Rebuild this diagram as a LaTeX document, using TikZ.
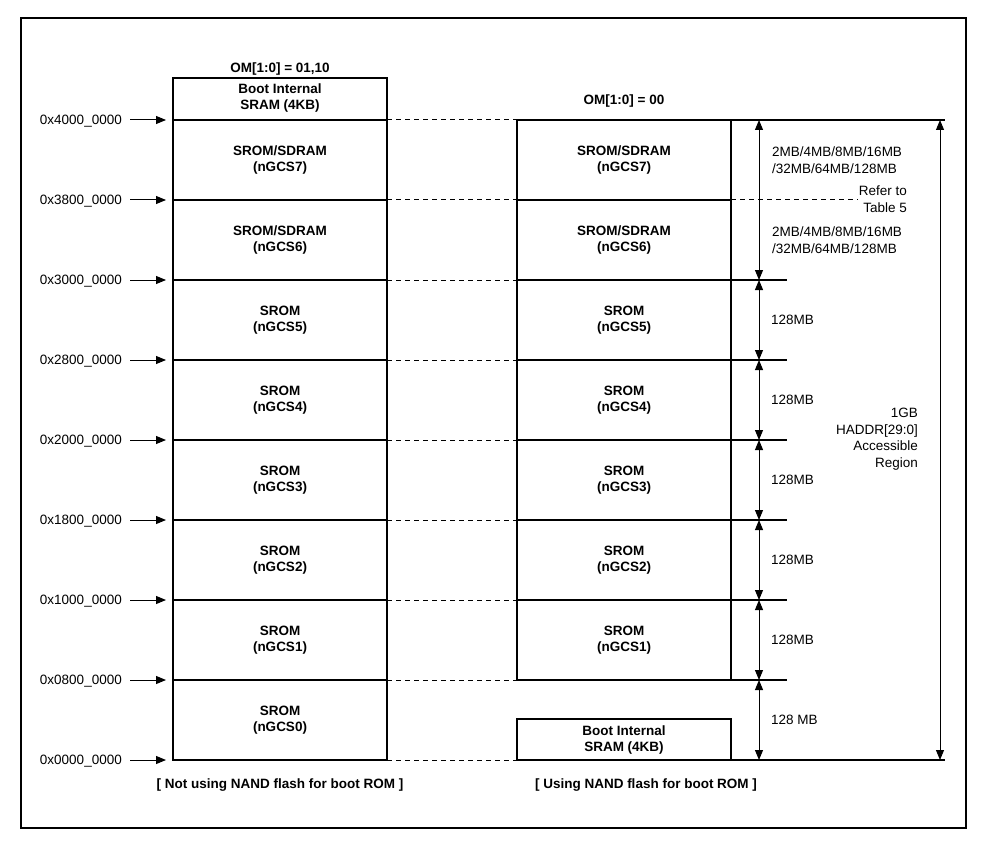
\documentclass[tikz,border=0pt]{standalone}
\usepackage{fontspec}
\setmainfont{Liberation Sans}
\usetikzlibrary{arrows.meta}
\begin{document}
\begin{tikzpicture}[x=1pt,y=-1pt,
    txt/.style={font=\fontsize{13.5}{16.5}\selectfont, inner sep=0pt},
    bold/.style={font=\fontsize{13.5}{16.5}\selectfont\bfseries, inner sep=0pt, align=center},
    box/.style={line width=1.1pt},
    gap/.style={line width=1pt, dash pattern=on 5pt off 4pt},
    tip/.style={line width=1pt, -{Triangle[length=10pt,width=8pt]}},
    dtip/.style={line width=1pt, {Triangle[length=10pt,width=8pt]}-{Triangle[length=10pt,width=8pt]}}]
    \useasboundingbox (0,0) rectangle (981,842);

    % Marco
    \draw[line width=2.5pt] (21,18) rectangle (966,828);

    % Columna izquierda
    \node[bold] (omL) at (280,69) {OM[1:0] = 01,10};
    \draw[box] (173,78) rectangle (387,760);
    \node[bold] (bootL) at (280,98) {Boot Internal\\SRAM (4KB)};
    \foreach \y in {120,200,...,680}
        \draw[box] (173,\y) -- (387,\y);

    % Bancos izquierda
    \foreach \i/\t in {7/{SROM/SDRAM},6/{SROM/SDRAM},5/SROM,4/SROM,3/SROM,2/SROM,1/SROM,0/SROM}
        \node[bold] (L\i) at (280,{160+(7-\i)*80}) {\t\\(nGCS\i)};

    % Direcciones
    \foreach \a [count=\k from 0] in {4000,3800,3000,2800,2000,1800,1000,0800,0000} {
        \node[txt, anchor=east] (a\a) at (122,{121+\k*80}) {0x\a\_0000};
        \draw[tip] (130,{120+\k*80}) -- (166,{120+\k*80});
    }

    % Lineas de enlace
    \foreach \y in {120,200,...,760}
        \draw[gap] (387,\y) -- (517,\y);

    % Columna derecha
    \node[bold] (omR) at (624,101) {OM[1:0] = 00};
    \draw[box] (517,120) rectangle (731,680);
    \foreach \y in {200,280,...,600}
        \draw[box] (517,\y) -- (731,\y);
    \foreach \i/\t in {7/{SROM/SDRAM},6/{SROM/SDRAM},5/SROM,4/SROM,3/SROM,2/SROM,1/SROM}
        \node[bold] (R\i) at (624,{160+(7-\i)*80}) {\t\\(nGCS\i)};
    \draw[box] (517,719) rectangle (731,760);
    \node[bold] (bootR) at (624,740) {Boot Internal\\SRAM (4KB)};

    % Marcas derecha
    \draw[box] (731,120) -- (945,120);
    \draw[gap] (731,200) -- (858,200);
    \foreach \y in {280,360,...,680}
        \draw[box] (731,\y) -- (787,\y);
    \draw[box] (731,760) -- (945,760);

    % Tamanos
    \foreach \ya/\yb in {120/280,280/360,360/440,440/520,520/600,600/680,680/760}
        \draw[dtip] (759,\ya) -- (759,\yb);
    \draw[dtip] (940,120) -- (940,760);

    \node[txt, anchor=west, align=left] (s7) at (772,160) {2MB/4MB/8MB/16MB\\/32MB/64MB/128MB};
    \node[txt, anchor=west, align=left] (s6) at (772,240) {2MB/4MB/8MB/16MB\\/32MB/64MB/128MB};
    \node[txt, anchor=east, align=right] (ref) at (907,199) {Refer to\\Table 5};
    \foreach \i/\y in {5/320,4/400,3/480,2/560,1/640}
        \node[txt, anchor=west] (s\i) at (771,\y) {128MB};
    \node[txt, anchor=west] (s0) at (771,720) {128 MB};
    \node[txt, anchor=east, align=right] (gb) at (918,439) {1GB\\HADDR[29:0]\\Accessible\\Region};

    % Leyendas
    \node[bold] (capL) at (280,785) {[ Not using NAND flash for boot ROM ]};
    \node[bold] (capR) at (646,785) {[ Using NAND flash for boot ROM ]};
\end{tikzpicture}
\end{document}
